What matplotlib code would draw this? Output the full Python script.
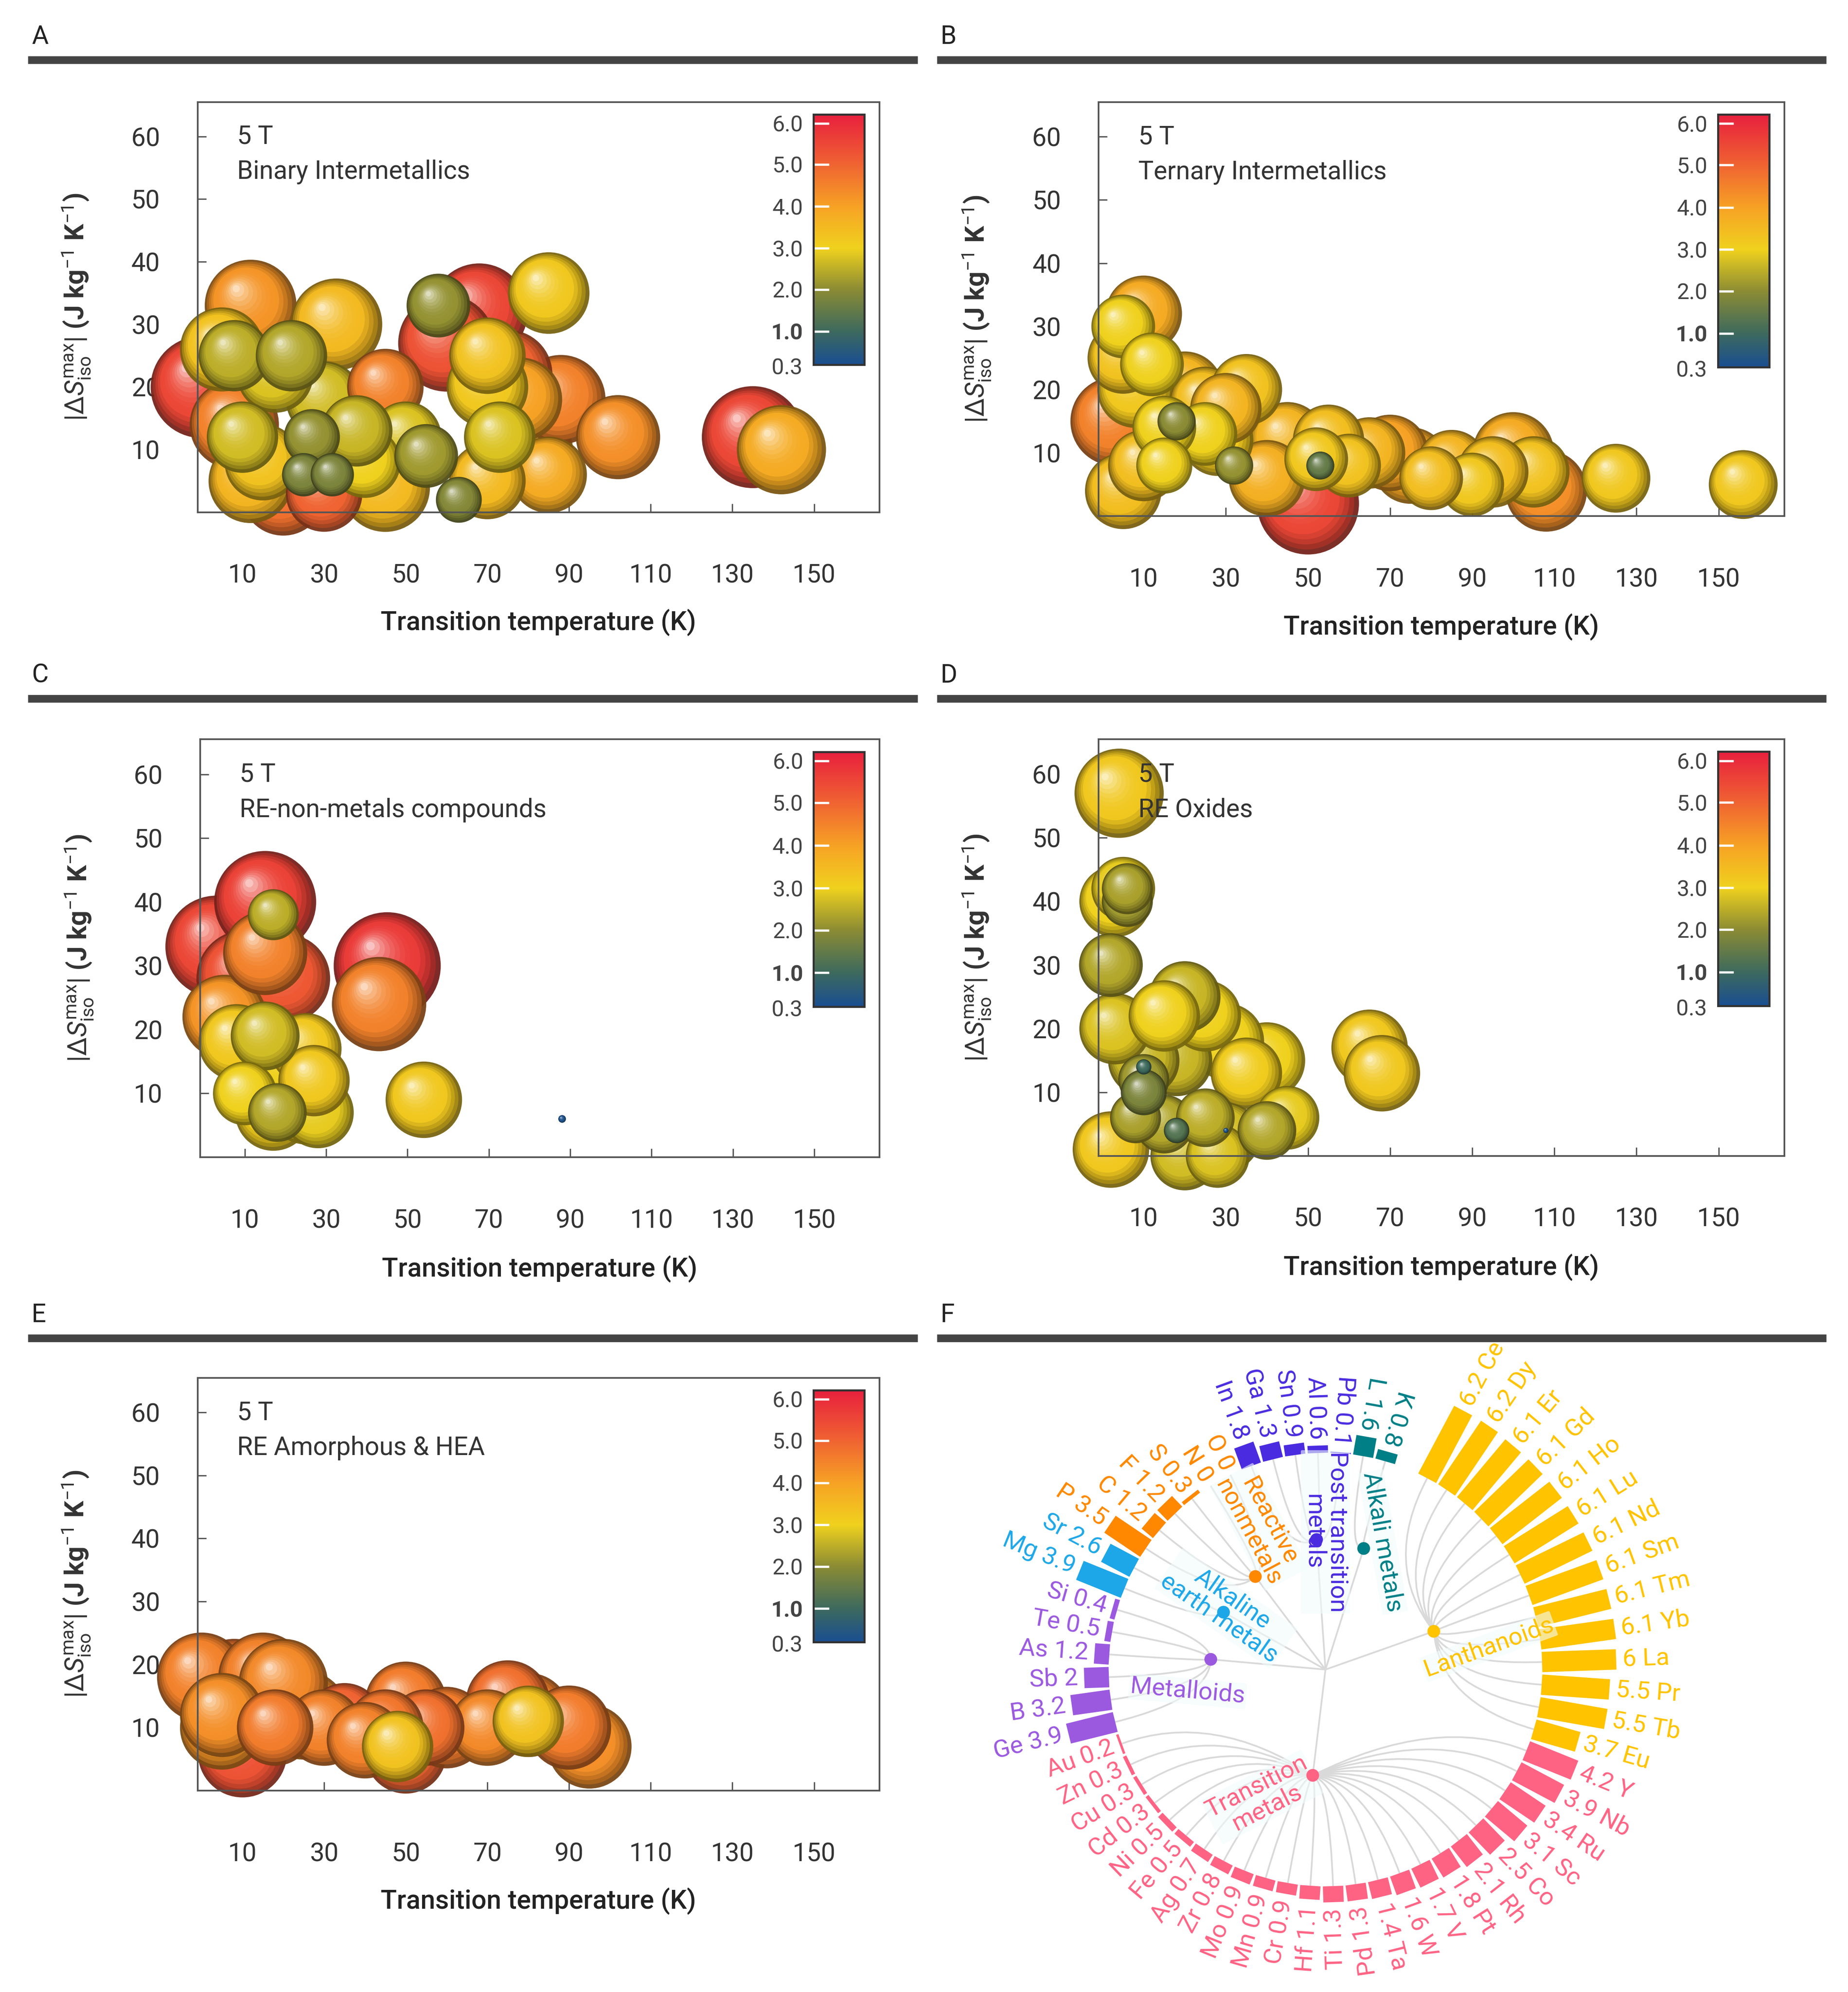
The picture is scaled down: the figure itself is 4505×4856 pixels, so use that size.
"""Magnetocaloric bubble panels (A-E) plus radial element bar chart (F)."""

import numpy as np
import matplotlib
matplotlib.use("Agg")
import matplotlib.pyplot as plt
from matplotlib.colors import LinearSegmentedColormap, to_rgb
from matplotlib.path import Path
from matplotlib.patches import PathPatch, Polygon, Circle
from matplotlib.lines import Line2D

plt.rcParams["font.family"] = ["Roboto", "DejaVu Sans"]
plt.rcParams["mathtext.fontset"] = "custom"
plt.rcParams["mathtext.rm"] = "Roboto"
plt.rcParams["mathtext.it"] = "Roboto:italic"

# ---------------- data: bubbles (T, |dS|, colour value, radius px) ----------------
a_x = [0, 68, 60, 12, 33, 85, 75, 88, 102, 135, 142, 70, 78, 80, 85, 70, 45, 20, 12, 30, 40, 45, 8,
       5, 18, 8, 22, 30, 38, 10, 27, 50, 55, 25, 32, 63, 70, 73, 40, 15, 58]
a_y = [20, 32, 27, 33, 30, 35, 22, 18, 12, 12, 10, 20, 18, 10, 6, 5, 4, 3, 5, 3, 15, 20, 14,
       26, 22, 25, 25, 18, 13, 12, 12, 12, 9, 6, 6, 2, 25, 12, 8, 8, 33]
a_v = [5.5, 5.5, 5.3, 4.2, 3.5, 3.2, 5.0, 4.5, 4.3, 5.5, 3.8, 3.2, 4.0, 3.5, 3.8, 3.5, 3.5, 4.8, 3.6,
       5.0, 4.2, 4.5, 4.5, 3.3, 2.8, 2.5, 2.4, 2.7, 2.6, 2.7, 2.1, 2.8, 2.2, 1.8, 1.8, 1.9, 3.3, 2.8,
       3.0, 3.3, 2.1]
a_r = [40, 38, 38, 36, 36, 32, 35, 35, 33, 40, 35, 32, 33, 35, 30, 30, 35, 33, 33, 30, 32, 30, 35,
       33, 30, 28, 28, 30, 28, 28, 22, 28, 25, 17, 17, 18, 30, 28, 28, 30, 25]

b_x = [5, 10, 5, 8, 3, 12, 20, 25, 35, 30, 28, 15, 18, 25, 32, 15, 5, 10, 40, 50, 45, 55, 52, 53,
       60, 70, 75, 85, 95, 100, 105, 108, 90, 80, 65, 125, 156]
b_y = [30, 32, 25, 20, 15, 24, 20, 18, 20, 17, 12, 14, 15, 13, 8, 8, 4, 8, 6, 2, 12, 12, 9, 8,
       8, 10, 8, 8, 7, 10, 7, 4, 5, 6, 10, 6, 5]
b_v = [3.0, 3.8, 3.3, 3.2, 4.5, 3.0, 3.6, 3.4, 3.3, 3.6, 3.2, 3.0, 2.0, 3.0, 2.1, 3.0, 3.4, 3.4,
       3.7, 5.5, 3.6, 3.4, 3.2, 1.5, 3.3, 4.0, 3.9, 3.6, 3.4, 3.8, 3.3, 4.3, 3.2, 3.4, 3.6, 3.2, 3.2]
b_r = [25, 30, 28, 30, 35, 25, 30, 28, 28, 28, 28, 25, 15, 25, 15, 22, 30, 28, 30, 40, 30, 28, 25,
       11, 25, 30, 30, 28, 28, 32, 28, 32, 25, 25, 28, 27, 27]

c_x = [3, 15, 10, 20, 15, 45, 43, 5, 8, 15, 25, 20, 10, 27, 17, 28, 25, 18, 17, 54, 88]
c_y = [33, 40, 28, 28, 32, 30, 24, 22, 18, 19, 17, 15, 10, 12, 7, 7, 8, 7, 38, 9, 6]
c_v = [5.5, 5.6, 5.3, 5.2, 4.5, 5.7, 4.5, 4.2, 3.2, 2.7, 3.2, 3.0, 3.0, 3.2, 3.1, 2.9, 3.0, 2.4,
       2.5, 3.2, 0.3]
c_r = [40, 40, 38, 35, 33, 42, 37, 33, 30, 27, 28, 28, 25, 28, 30, 28, 30, 23, 20, 30, 3]

d_x = [4, 3, 5, 6, 6, 2, 3, 15, 20, 25, 30, 40, 35, 65, 68, 2, 10, 18, 10, 10, 10, 8, 15, 20,
       25, 18, 30, 30, 40, 45, 28]
d_y = [57, 40, 42, 42, 40, 30, 20, 22, 25, 22, 18, 15, 13, 17, 13, 1, 15, 15, 12, 10, 14, 6, 5, 0,
       6, 4, 3, 4, 4, 6, 0]
d_v = [3.2, 3.0, 2.9, 2.3, 2.2, 2.4, 2.8, 3.0, 2.6, 3.0, 3.0, 3.0, 3.1, 3.2, 3.2, 3.2, 2.6, 2.6,
       2.2, 1.8, 1.0, 2.3, 2.4, 2.7, 2.5, 1.3, 2.7, 0.3, 2.4, 2.9, 2.8]
d_r = [35, 28, 25, 20, 20, 25, 28, 28, 28, 28, 30, 30, 28, 30, 30, 30, 28, 28, 20, 18, 6, 20, 23,
       27, 23, 10, 27, 2, 23, 25, 25]

e_x = [0, 8, 15, 20, 5, 10, 18, 25, 30, 35, 40, 45, 50, 55, 50, 60, 48, 75, 80, 80, 90, 95, 70, 5]
e_y = [18, 17, 18, 17, 12, 6, 10, 12, 10, 11, 8, 10, 14, 10, 6, 10, 7, 14, 12, 11, 10, 7, 10, 10]
e_v = [4.5, 4.7, 4.5, 4.4, 4.3, 5.3, 4.6, 4.3, 4.5, 5.0, 4.5, 4.7, 4.6, 4.8, 5.0, 4.6, 3.3, 4.8,
       4.5, 3.3, 4.6, 4.3, 4.4, 4.2]
e_r = [35, 35, 35, 35, 33, 35, 30, 35, 30, 30, 30, 30, 32, 30, 32, 32, 28, 33, 33, 28, 33, 33, 30, 33]

# ---------------- data: panel F ----------------
groups = ["Lanthanoids", "Transition metals", "Metalloids", "Alkaline earth metals",
          "Reactive nonmetals", "Post transition metals", "Alkali metals"]
group_colors = ["#FFC300", "#FF6384", "#9B59E0", "#1DA7E8", "#FF8800", "#4A2BE0", "#007F86"]
elements = [
    ["Ce", "Dy", "Er", "Gd", "Ho", "Lu", "Nd", "Sm", "Tm", "Yb", "La", "Pr", "Tb", "Eu"],
    ["Y", "Nb", "Ru", "Sc", "Co", "Rh", "Pt", "V", "W", "Ta", "Pd", "Ti", "Hf", "Cr", "Mn", "Mo",
     "Zr", "Ag", "Fe", "Ni", "Cd", "Cu", "Zn", "Au"],
    ["Ge", "B", "Sb", "As", "Te", "Si"],
    ["Mg", "Sr"],
    ["P", "C", "F", "S", "N", "O"],
    ["In", "Ga", "Sn", "Al", "Pb"],
    ["L", "K"],
]
values = [
    [6.2, 6.2, 6.1, 6.1, 6.1, 6.1, 6.1, 6.1, 6.1, 6.1, 6, 5.5, 5.5, 3.7],
    [4.2, 3.9, 3.4, 3.1, 2.5, 2.1, 1.8, 1.7, 1.6, 1.4, 1.3, 1.3, 1.1, 0.9, 0.9, 0.9,
     0.8, 0.7, 0.5, 0.5, 0.3, 0.3, 0.3, 0.2],
    [3.9, 3.2, 2, 1.2, 0.5, 0.4],
    [3.9, 2.6],
    [3.5, 1.2, 1.2, 0.3, 0, 0],
    [1.8, 1.3, 0.9, 0.6, 0.1],
    [1.6, 0.8],
]

# ---------------- colour scale ----------------
cmap = LinearSegmentedColormap.from_list("dS", [
    (0.0, "#1a4f91"), (0.133, "#3e6a5e"), (0.30, "#8c8c34"), (0.465, "#f0d21e"),
    (0.63, "#f7a325"), (0.80, "#f06432"), (1.0, "#e8203e")])


def vpos(v):
    return float(np.clip(v * 0.1663 - 0.033, 0, 1))


DPI = 300
W, H = 4505 / DPI, 4856 / DPI
DW, DH = 1450.0, 1563.0  # layout measured in preview pixels
PT = 4505 / DW * 72 / DPI  # points per preview pixel

fig = plt.figure(figsize=(W, H), dpi=DPI)
GREY = "#444444"


def header(letter, x0, x1, ybar):
    fig.add_artist(Line2D([x0 / DW, x1 / DW], [1 - ybar / DH] * 2, color=GREY, lw=4.5,
                          solid_capstyle="butt"))
    fig.text(x0 / DW + 0.002, 1 - (ybar - 18) / DH, letter, fontsize=15, color="#222",
             va="center", ha="left")


def mix(c1, c2, t):
    return tuple(np.array(c1) * (1 - t) + np.array(c2) * t)


def bubble_panel(box, xs, ys, vs, rs, title):
    l, t, r, b = box
    ax = fig.add_axes([l / DW, 1 - b / DH, (r - l) / DW, (b - t) / DH])
    xlim, ylim = (-1, 166), (0, 65.5)
    ax.set_xlim(*xlim)
    ax.set_ylim(*ylim)
    # data units per preview pixel, to offset the highlight layers
    ux = (xlim[1] - xlim[0]) / (r - l)
    uy = (ylim[1] - ylim[0]) / (b - t)
    order = np.argsort(rs)[::-1]
    nl = 14
    for i in order:
        base = to_rgb(cmap(vpos(vs[i])))
        rim = tuple(np.array(base) * 0.5)
        hi = mix(base, (1, 1, 1), 0.7)
        ts = np.linspace(0, 1, nl)
        px, py, ss, cs = [], [], [], []
        for tt in ts:
            rk = rs[i] * (1 - 0.92 * tt)
            off = rs[i] - rk
            px.append(xs[i] - off * 0.34 * ux)
            py.append(ys[i] + off * 0.40 * uy)
            ss.append((2 * rk * PT) ** 2)
            if tt < 0.3:
                cs.append(mix(rim, base, (tt / 0.3) ** 0.7))
            else:
                cs.append(mix(base, hi, ((tt - 0.3) / 0.7) ** 2.2))
        ax.scatter(px, py, s=ss, c=cs, linewidths=0, clip_on=False, zorder=2, alpha=0.95)

    for s in ax.spines.values():
        s.set_color("#555555")
        s.set_linewidth(1.0)
    ax.set_xticks([10, 30, 50, 70, 90, 110, 130, 150])
    ax.set_yticks([10, 20, 30, 40, 50, 60])
    ax.tick_params(axis="x", direction="in", length=5, pad=30, labelsize=15, colors="#555",
                   labelcolor="#333")
    ax.tick_params(axis="y", direction="in", length=5, pad=22, labelsize=15, colors="#555",
                   labelcolor="#333")
    ax.set_xlabel("Transition temperature (K)", fontsize=15.5, fontweight="medium", color="#222")
    ax.xaxis.set_label_coords(0.5, -0.235)
    ax.set_ylabel(r"$|\Delta S_{\rm iso}^{\rm max}|$ (J kg$^{-1}$ K$^{-1}$)", fontsize=15.5,
                  fontweight="bold", color="#333")
    ax.yaxis.set_label_coords(-0.155, 0.5)
    ax.text(0.058, 0.915, "5 T", transform=ax.transAxes, fontsize=15, color="#333", va="center")
    ax.text(0.058, 0.83, title, transform=ax.transAxes, fontsize=15, color="#333", va="center")

    cax = ax.inset_axes([0.903, 0.36, 0.075, 0.61])
    grad = np.linspace(0, 1, 256)[:, None]
    cax.imshow(grad, extent=[0, 1, 0, 1], origin="lower", aspect="auto", cmap=cmap)
    cax.set_xticks([])
    tv = [6.0, 5.0, 4.0, 3.0, 2.0, 1.0]
    tp = [0.964, 0.80, 0.632, 0.465, 0.30, 0.133]
    cax.set_yticks(tp)
    cax.set_yticklabels([f"{v:.1f}" for v in tv])
    cax.set_ylim(0, 1)
    cax.tick_params(axis="y", direction="in", length=9, width=1.3, color="white",
                    labelsize=13, labelcolor="#444", pad=6)
    cax.get_yticklabels()[5].set_fontweight("bold")
    cax.text(-0.0, -0.015, "0.3  ", transform=cax.transAxes, ha="right", va="center",
             fontsize=13, color="#444")
    for s in cax.spines.values():
        s.set_color("#333")
        s.set_linewidth(1.2)
    return ax


header("A", 22, 720, 47)
header("B", 735, 1433, 47)
header("C", 22, 720, 548)
header("D", 735, 1433, 548)
header("E", 22, 720, 1050)
header("F", 735, 1433, 1050)

bubble_panel((155, 80, 690, 402), a_x, a_y, a_v, a_r, "Binary Intermetallics")
bubble_panel((862, 80, 1400, 405), b_x, b_y, b_v, b_r, "Ternary Intermetallics")
bubble_panel((157, 580, 690, 908), c_x, c_y, c_v, c_r, "RE-non-metals compounds")
bubble_panel((862, 580, 1400, 907), d_x, d_y, d_v, d_r, "RE Oxides")
bubble_panel((155, 1081, 690, 1405), e_x, e_y, e_v, e_r, "RE Amorphous & HEA")

# ---------------- panel F: radial dendrogram bars ----------------
cx, cy = 1040, 1310
axf = fig.add_axes([735 / DW, 0, 715 / DW, 503 / DH])
axf.set_xlim(735 - cx, 1450 - cx)
axf.set_ylim(-(1563 - cy), -(1060 - cy))
axf.axis("off")

R0 = 170
STEP = 6.0
LEN = 9.7
nodes = [(85, 30), (-10, -83), (-90, 8), (-80, 45), (-55, 73), (-7, 102), (30, 95)]
group_labels = [
    ("Lanthanoids", (128, 18), 20),
    ("Transition\nmetals", (-50, -100), 27),
    ("Metalloids", (-108, -17), -5),
    ("Alkaline\nearth metals", (-78, 48), -35),
    ("Reactive\nnonmetals", (-52, 112), -62),
    ("Post transition\nmetals", (0, 108), -90),
    ("Alkali metals", (45, 100), -80),
]

idx = 0
for g, (els, vals) in enumerate(zip(elements, values)):
    col = group_colors[g]
    nx, ny = nodes[g]
    axf.plot([0, nx], [0, ny], color="#d9d9d9", lw=1.0, zorder=1)
    for el, v in zip(els, vals):
        th = np.deg2rad(62 - STEP * idx)
        ux, uy = np.cos(th), np.sin(th)
        vx, vy = -uy, ux
        lx, ly = R0 * ux, R0 * uy
        ctrl = (0.55 * R0 * ux, 0.55 * R0 * uy)
        path = Path([(nx, ny), ctrl, (lx, ly)], [Path.MOVETO, Path.CURVE3, Path.CURVE3])
        axf.add_patch(PathPatch(path, fc="none", ec="#d9d9d9", lw=1.0, zorder=1))
        L = LEN * v
        hw = 8
        if L > 0:
            pts = [(lx + vx * hw, ly + vy * hw), (lx - vx * hw, ly - vy * hw),
                   (lx + ux * L - vx * hw, ly + uy * L - vy * hw),
                   (lx + ux * L + vx * hw, ly + uy * L + vy * hw)]
            axf.add_patch(Polygon(pts, closed=True, fc=col, ec="none", zorder=2))
        rt = R0 + L + 5
        vs = f"{v:g}"
        if idx < 24:
            axf.text(rt * ux, rt * uy, f"{vs} {el}", rotation=np.rad2deg(th), ha="left",
                     va="center", rotation_mode="anchor", color=col, fontsize=14.5)
        else:
            axf.text(rt * ux, rt * uy, f"{el} {vs}", rotation=np.rad2deg(th) + 180, ha="right",
                     va="center", rotation_mode="anchor", color=col, fontsize=14.5)
        idx += 1
    axf.add_patch(Circle((nx, ny), 5, fc=col, ec="none", zorder=6))

for g, (txt, (tx, ty), rot) in enumerate(group_labels):
    axf.text(tx, ty, txt, rotation=rot, ha="center", va="center", rotation_mode="anchor",
             color=group_colors[g], fontsize=14.5, linespacing=1.0, zorder=4,
             bbox=dict(boxstyle="round,pad=0.05", fc="#f2fcfc", ec="none", alpha=0.6))

fig.savefig("out.png", dpi=DPI)
